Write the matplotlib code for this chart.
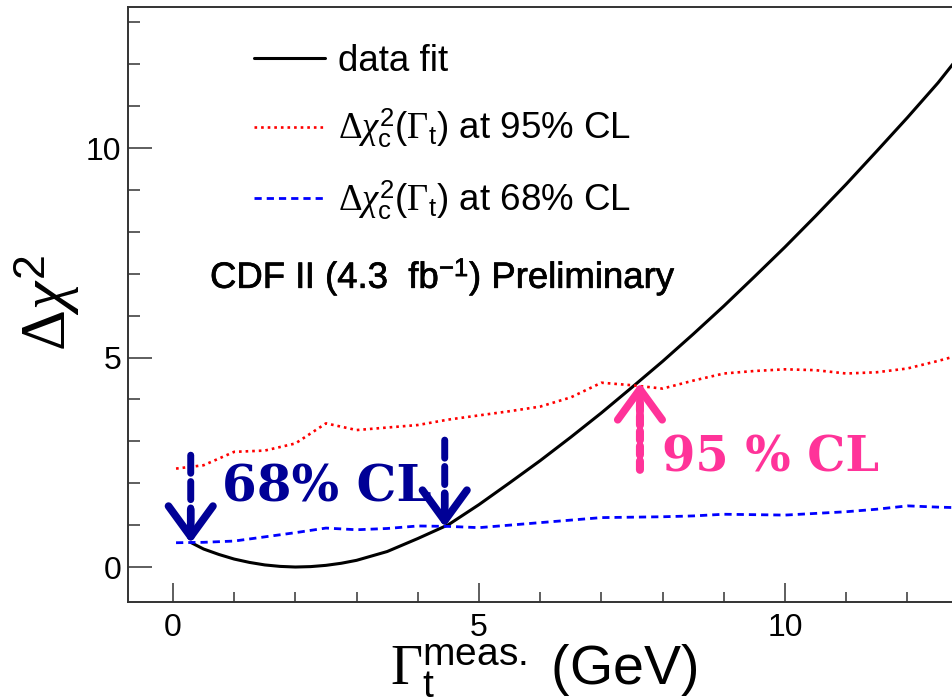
import matplotlib
matplotlib.use('Agg')
import matplotlib.pyplot as plt
import matplotlib.patheffects as pe
from matplotlib.ticker import MultipleLocator

plt.rcParams['font.family'] = ['Liberation Sans', 'DejaVu Sans']
plt.rcParams['mathtext.fontset'] = 'custom'
plt.rcParams['mathtext.rm'] = 'Liberation Serif'
plt.rcParams['mathtext.it'] = 'Liberation Serif:italic'
plt.rcParams['mathtext.sf'] = 'Liberation Sans'
plt.rcParams['mathtext.bf'] = 'Liberation Serif:bold'

# ---- data ----
fit_x = [0.30, 0.50, 0.75, 1.00, 1.25, 1.50, 1.75, 2.00, 2.25, 2.50, 2.75, 3.00,
         3.50, 4.00, 4.50, 5.00, 5.50, 6.00, 6.50, 7.00, 7.50, 8.00, 8.50, 9.00,
         9.50, 10.00, 10.50, 11.00, 11.50, 12.00, 12.50, 12.75]
fit_y = [0.58, 0.43, 0.30, 0.19, 0.11, 0.05, 0.015, 0.00, 0.01, 0.04, 0.09, 0.16,
         0.37, 0.68, 1.01, 1.49, 2.01, 2.54, 3.10, 3.68, 4.29, 4.91, 5.56, 6.23,
         6.93, 7.64, 8.38, 9.14, 9.93, 10.73, 11.56, 12.02]

cl_x = [0.05, 0.50, 1.00, 1.50, 2.00, 2.50, 3.00, 3.50, 4.00, 4.50, 5.00, 5.50,
        6.00, 6.50, 7.00, 7.50, 8.00, 8.50, 9.00, 9.50, 10.00, 10.50, 11.00,
        11.50, 12.00, 12.50, 12.75]
cl95_y = [2.35, 2.43, 2.75, 2.78, 2.95, 3.43, 3.27, 3.33, 3.39, 3.52, 3.62, 3.72,
          3.83, 4.05, 4.40, 4.34, 4.26, 4.45, 4.62, 4.68, 4.72, 4.70, 4.62, 4.65,
          4.74, 4.92, 5.02]
cl68_y = [0.58, 0.59, 0.62, 0.72, 0.82, 0.93, 0.89, 0.92, 0.98, 0.97, 0.94, 1.00,
          1.06, 1.12, 1.18, 1.19, 1.20, 1.22, 1.26, 1.25, 1.24, 1.28, 1.32, 1.38,
          1.46, 1.43, 1.42]

# arrows: x position, tip, tail
arr68_x = [0.29, 4.44]
arr68_tip = [0.57, 0.95]
arr68_tail = [2.67, 3.03]
arr95_x = 7.63
arr95_tip = 4.40
arr95_tail = 2.32

labels = ['data fit',
          r'$\Delta\chi^{\mathsf{2}}_{\mathsf{c}}\mathsf{(}\Gamma_{\mathsf{t}}\mathsf{)}$ at 95% CL',
          r'$\Delta\chi^{\mathsf{2}}_{\mathsf{c}}\mathsf{(}\Gamma_{\mathsf{t}}\mathsf{)}$ at 68% CL']

navy = '#000096'
pink = '#ff3399'
HEAD = '->,head_length=22,head_width=16'

fig = plt.figure(figsize=(9.53, 6.97), dpi=100)
ax = fig.add_axes([128/953, 95/697, 1 - 128/953, 595/697])
ax.set_xlim(-0.735, 12.745)
ax.set_ylim(-0.835, 13.37)

l1, = ax.plot(fit_x, fit_y, color='black', lw=2.2, solid_capstyle='round')
l2, = ax.plot(cl_x, cl95_y, color='red', lw=1.9, ls=(0, (1, 1.5)))
l3, = ax.plot(cl_x, cl68_y, color='#0000ff', lw=2.0, ls=(0, (2.6, 1.8)))

# 68% arrows
for x, tip, tail in zip(arr68_x, arr68_tip, arr68_tail):
    ax.annotate('', xy=(x, tip + 0.5), xytext=(x, tail),
                arrowprops=dict(arrowstyle='-', lw=5, ls=(0, (2.6, 1.2)),
                                color=navy, shrinkA=0, shrinkB=0))
    ax.annotate('', xy=(x, tip), xytext=(x, tip + 0.8),
                arrowprops=dict(arrowstyle=HEAD, mutation_scale=1, lw=5.5,
                                color=navy, shrinkA=0, shrinkB=0,
                                capstyle='round', joinstyle='round'))
# 95% arrow
ax.annotate('', xy=(arr95_x, arr95_tip - 0.5), xytext=(arr95_x, arr95_tail),
            arrowprops=dict(arrowstyle='-', lw=5.8, ls=(0, (1.1, 0.75)),
                            color=pink, shrinkA=0, shrinkB=0))
ax.annotate('', xy=(arr95_x, arr95_tip), xytext=(arr95_x, arr95_tip - 0.8),
            arrowprops=dict(arrowstyle=HEAD, mutation_scale=1, lw=5.5,
                            color=pink, shrinkA=0, shrinkB=0,
                            capstyle='round', joinstyle='round'))

ax.text(0.80, 1.56, '68% CL', color=navy, fontsize=36, fontweight='bold',
        family='DejaVu Serif', va='baseline')
ax.text(7.99, 2.27, '95 % CL', color=pink, fontsize=34.5, fontweight='bold',
        family='DejaVu Serif', va='baseline')
ax.text(0.605, 6.66, r'CDF II (4.3  fb$^{\mathsf{-1}}$) Preliminary',
        fontsize=26.3, va='baseline',
        path_effects=[pe.withStroke(linewidth=0.5, foreground='black')])

ax.legend([l1, l2, l3], labels, loc='upper left',
          bbox_to_anchor=(254/953, 1 - 44/697), bbox_transform=fig.transFigure,
          frameon=False, fontsize=26.5, handlelength=1.93, handletextpad=0.35,
          borderpad=0, borderaxespad=0, labelspacing=0.75)

# axes styling
for s in ['left', 'bottom', 'top']:
    ax.spines[s].set_linewidth(1.4)
    ax.spines[s].set_color('#333333')
ax.spines['right'].set_visible(False)
ax.xaxis.set_major_locator(MultipleLocator(5))
ax.xaxis.set_minor_locator(MultipleLocator(1))
ax.yaxis.set_major_locator(MultipleLocator(5))
ax.yaxis.set_minor_locator(MultipleLocator(1))
ax.tick_params(axis='both', which='both', direction='in', colors='#333333',
               width=1.1, labelcolor='black', labelsize=23)
ax.tick_params(axis='x', which='major', length=13.7, pad=8)
ax.tick_params(axis='x', which='minor', length=7.2)
ax.tick_params(axis='y', which='major', length=17, pad=5)
ax.tick_params(axis='y', which='minor', length=8.6)

fig.text(82/953, 1 - 303/697, r'$\Delta\chi^{\mathsf{2}}$', rotation=90,
         ha='right', va='center', fontsize=46)
fig.text(544/953, 12/697, r'$\Gamma_{\mathsf{t}}^{\mathsf{meas.}}$ (GeV)',
         ha='center', va='baseline', fontsize=40)

fig.savefig('out.png', dpi=100)
